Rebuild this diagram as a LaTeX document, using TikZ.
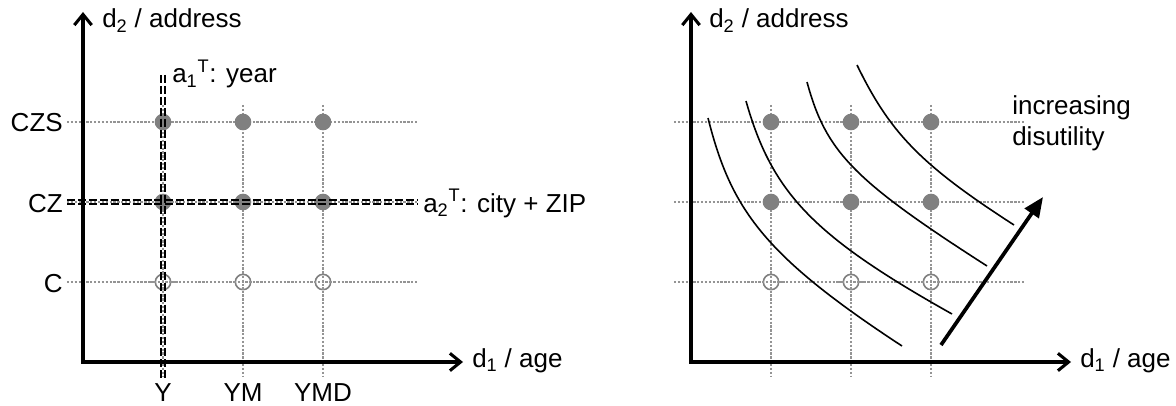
\documentclass[tikz,border=0pt]{standalone}
\usepackage{fontspec}
\setmainfont{Liberation Sans}
\usetikzlibrary{arrows.meta}
\begin{document}
\begin{tikzpicture}[x=0.75pt,y=-0.75pt,
  every node/.style={font=\fontsize{19.5}{23.25}\selectfont, inner sep=0pt},
  gridline/.style={draw=black!42, line width=1.8pt, dash pattern=on 1.7pt off 1.2pt},
  fulldot/.style={circle, fill=black!50, minimum size=12.5pt, inner sep=0pt},
  opendot/.style={circle, draw=black!50, fill=white, line width=1.2pt, minimum size=11.5pt, inner sep=0pt},
  axisline/.style={line width=2.5pt,
     {Straight Barb[length=8pt,width=13pt,line width=2.3pt]}-{Straight Barb[length=8pt,width=13pt,line width=2.3pt]}},
  attr/.style={line width=1.55pt, dash pattern=on 6pt off 2.2pt},
  icurve/.style={line width=1.2pt},
  bigarrow/.style={line width=2.8pt, -{Triangle[length=15pt,width=12.5pt]}}
]
\useasboundingbox (0,0) rectangle (1176,406);

% ---------------- left panel ----------------
\foreach \y in {122,202,282} \draw[gridline] (67,\y) -- (418,\y);
\foreach \x in {163,243,323} \draw[gridline] (\x,105) -- (\x,377);

\node[fulldot] (LS1) at (163,122) {};
\node[fulldot] (LS2) at (243,122) {};
\node[fulldot] (LS3) at (323,122) {};
\node[fulldot] (LZ1) at (163,202) {};
\node[fulldot] (LZ2) at (243,202) {};
\node[fulldot] (LZ3) at (323,202) {};
\node[opendot] (LC1) at (163,282) {};
\node[opendot] (LC2) at (243,282) {};
\node[opendot] (LC3) at (323,282) {};
\foreach \x in {163,243,323} {
  \draw[gridline] (\x,272) -- (\x,292);
  \draw[gridline] (\x-13,282) -- (\x+13,282);
}

\draw[attr] (161.2,75) -- (161.2,378);
\draw[attr] (164.8,75) -- (164.8,378);
\draw[attr] (67,200.2) -- (418,200.2);
\draw[attr] (67,203.8) -- (418,203.8);

\coordinate (LO) at (83,362);
\coordinate (LY) at (83,12);
\coordinate (LX) at (463,362);
\draw[axisline] (LY) -- (LO) -- (LX);

\node[anchor=base west] (ld2) at (102,28) {d\textsubscript{2} / address};
\node[anchor=base west] (ld1) at (472,367) {d\textsubscript{1} / age};
\node[anchor=base east] (lczs) at (63,132) {CZS};
\node[anchor=base east] (lcz) at (63,212) {CZ};
\node[anchor=base east] (lc) at (63,292) {C};
\node[anchor=base] (ly) at (163,401) {Y};
\node[anchor=base] (lym) at (243,401) {YM};
\node[anchor=base] (lymd) at (323,401) {YMD};
\node[anchor=base west] (a1) at (172,83) {a\textsubscript{1}\textsuperscript{T}: year};
\node[anchor=base west] (a2) at (423,212) {a\textsubscript{2}\textsuperscript{T}: city + ZIP};

% ---------------- right panel ----------------
\foreach \y in {122,202,282} \draw[gridline] (674,\y) -- (1024,\y);
\foreach \x in {771,851,931} \draw[gridline] (\x,105) -- (\x,377);

\node[fulldot] (RS1) at (771,122) {};
\node[fulldot] (RS2) at (851,122) {};
\node[fulldot] (RS3) at (931,122) {};
\node[fulldot] (RZ1) at (771,202) {};
\node[fulldot] (RZ2) at (851,202) {};
\node[fulldot] (RZ3) at (931,202) {};
\node[opendot] (RC1) at (771,282) {};
\node[opendot] (RC2) at (851,282) {};
\node[opendot] (RC3) at (931,282) {};
\foreach \x in {771,851,931} {
  \draw[gridline] (\x,272) -- (\x,292);
  \draw[gridline] (\x-13,282) -- (\x+13,282);
}

\draw[icurve] (708,118) .. controls (731,209) and (763,255) .. (902,346);
\draw[icurve] (746,101) .. controls (772,193) and (813,236) .. (952,314);
\draw[icurve] (807,82) .. controls (826,152) and (853,180) .. (987,266);
\draw[icurve] (857,65) .. controls (890,133) and (921,165) .. (1014,225);

\coordinate (A0) at (941,345);
\coordinate (A1) at (1043,197);
\draw[bigarrow] (A0) -- (A1);

\coordinate (RO) at (691,362);
\coordinate (RY) at (691,12);
\coordinate (RX) at (1071,362);
\draw[axisline] (RY) -- (RO) -- (RX);

\node[anchor=base west] (rd2) at (709,28) {d\textsubscript{2} / address};
\node[anchor=base west] (rd1) at (1080,367) {d\textsubscript{1} / age};
\node[anchor=base west, align=left] (dis) at (1012,146) {increasing\\disutility};
\end{tikzpicture}
\end{document}
